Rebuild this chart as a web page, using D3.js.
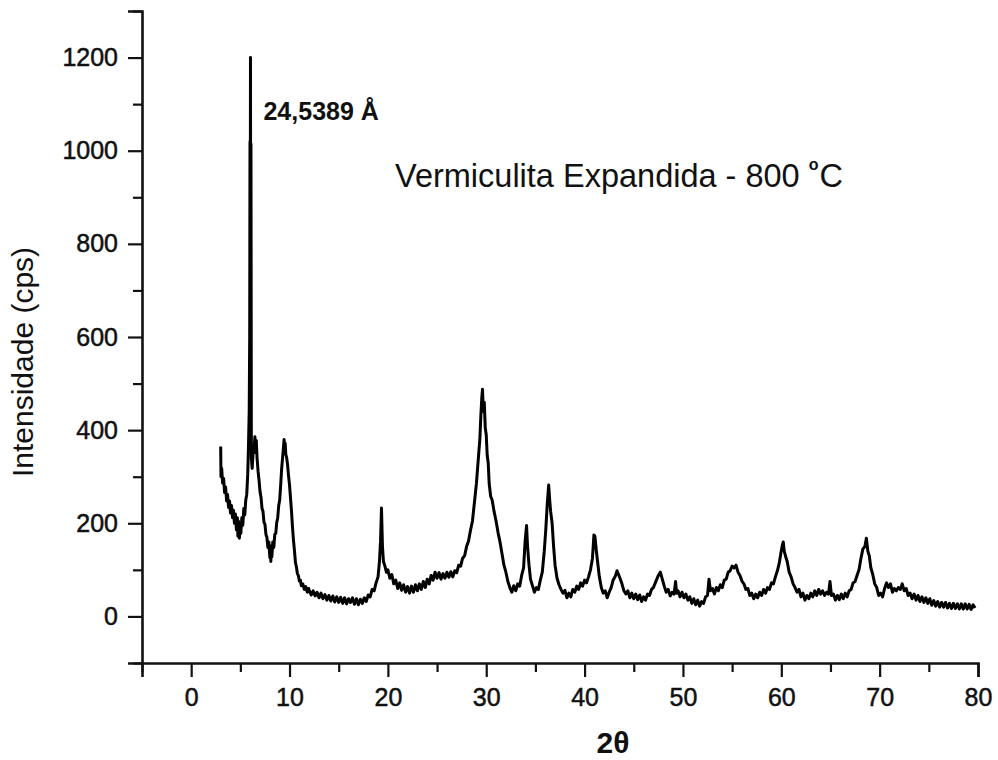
<html>
<head>
	<meta charset="utf-8" />
	<script src="https://cdnjs.cloudflare.com/ajax/libs/d3/7.8.5/d3.min.js"></script>
	<style>
		body { margin: 0; background: #fff; }
		text { font-family: "Liberation Sans", Arial, sans-serif; fill: #111; }
	</style>
</head>
<body>
<svg id="chart" width="998" height="760"></svg>
<script>

	// tick values
	var xMajorTicks = [0, 10, 20, 30, 40, 50, 60, 70, 80];
	var xMinorTicks = [-5, 5, 15, 25, 35, 45, 55, 65, 75];
	var yMajorTicks = [0, 200, 400, 600, 800, 1000, 1200];
	var yMinorTicks = [-100, 100, 300, 500, 700, 900, 1100, 1300];

	// labels
	var yTitle = "Intensidade (cps)";
	var xTitle = "2θ";
	var sampleName = "Vermiculita Expandida - 800 ";
	var peakLabel = "24,5389 Å";
	var peakAt = [6.03, 1200];

	// diffractogram, [2theta, cps]
	var scanLow = [
		[3.00,365],[3.03,300],[3.1,318],[3.2,286],[3.3,296],[3.4,266],[3.5,278],[3.6,248],[3.7,262],[3.8,234],
		[3.9,248],[4.0,222],[4.1,238],[4.2,212],[4.3,228],[4.4,200],[4.5,220],[4.6,186],[4.7,212],[4.75,172],
		[4.8,205],[4.9,168],[5.0,198],[5.05,178],[5.15,212],[5.25,196],[5.35,232],[5.45,218],[5.55,250],[5.65,262],
		[5.75,305],[5.82,360],[5.9,440],[5.95,600],[5.98,1020],[6.0,600],[6.03,1200],[6.06,480],[6.08,1015],[6.12,340],
		[6.2,318],[6.3,352],[6.4,362],[6.48,386],[6.55,352],[6.62,378],[6.7,340],[6.8,312],[6.9,292],[7.0,268],
		[7.1,256],[7.2,232],[7.3,226],[7.4,202],[7.5,198],[7.6,176],[7.7,170],[7.8,148],[7.9,160],[8.0,126],
		[8.05,152],[8.1,118],[8.15,146],[8.2,128],[8.3,160],[8.4,148],[8.5,176],[8.6,178],[8.7,202],[8.8,212],
		[8.9,238],[9.0,250],[9.1,282],[9.2,318],[9.3,342],[9.38,362],[9.45,380],[9.5,358],[9.56,372],[9.62,348],
		[9.7,342],[9.8,326],[9.9,302],[10.0,282],[10.1,254],[10.2,226],[10.3,192],[10.4,164],[10.5,142],[10.6,116],
		[10.7,106],[10.8,92],[10.9,88],[11.0,76],[11.1,78],[11.2,66],[11.35,70],[11.5,58],[11.65,64],[11.8,52],[11.95,60]
	];

	var scanMid = [
		[12.0,56],[12.2,46],[12.4,55],[12.6,44],[12.8,52],[13.0,40],[13.2,50],[13.4,38],[13.6,47],[13.8,35],
		[14.0,45],[14.2,33],[14.4,44],[14.6,31],[14.8,42],[15.0,30],[15.2,41],[15.4,28],[15.6,40],[15.8,27],
		[16.0,38],[16.2,30],[16.4,40],[16.6,26],[16.8,38],[17.0,25],[17.2,37],[17.4,28],[17.6,40],[17.8,32],
		[18.0,46],[18.2,42],[18.4,58],[18.6,55],[18.8,72],[19.0,85],[19.15,120],[19.25,160],[19.35,233],[19.45,150],
		[19.55,118],[19.7,108],[19.85,95],[20.0,100],[20.2,82],[20.4,90],[20.6,70],[20.8,78],[21.0,60],[21.2,72],
		[21.4,56],[21.6,68],[21.8,52],[22.0,64],[22.2,50],[22.4,65],[22.6,52],[22.8,68],[23.0,55],[23.2,70],
		[23.4,58],[23.6,75],[23.8,62],[24.0,80],[24.2,70],[24.4,88],[24.6,78],[24.8,95],[25.0,82],[25.2,94],
		[25.4,80],[25.6,92],[25.8,82],[26.0,95],[26.2,84],[26.4,96],[26.6,85],[26.8,98],[27.0,94],[27.2,110],
		[27.4,108],[27.6,125],[27.8,130],[28.0,150],[28.2,162],[28.4,185],[28.6,205],[28.8,245],[29.0,285],[29.2,340],
		[29.35,380],[29.45,430],[29.55,470],[29.62,488],[29.7,440],[29.8,460],[29.9,405],[30.0,390],[30.1,345],[30.2,330],
		[30.3,285],[30.45,258],[30.6,250],[30.8,225],[31.0,205],[31.2,180],[31.4,160],[31.6,135],[31.8,110],[32.0,95],
		[32.2,75],[32.4,62],[32.6,52],[32.8,66],[33.0,55],[33.2,70],[33.4,65],[33.6,88],[33.8,105],[33.95,160],
		[34.1,195],[34.2,150],[34.35,110],[34.5,80],[34.7,66],[34.9,52],[35.1,62],[35.3,58],[35.5,78],[35.7,95],
		[35.9,140],[36.05,185],[36.2,240],[36.35,282],[36.45,250],[36.55,225],[36.7,200],[36.85,150],[37.0,110],[37.2,82],
		[37.4,68],[37.6,58],[37.8,50],[38.0,56],[38.2,40],[38.4,50],[38.6,42],[38.8,58],[39.0,52],[39.2,65],
		[39.4,58],[39.6,72],[39.8,65],[40.0,78],[40.2,72],[40.4,85],[40.6,100],[40.8,125],[40.95,175],[41.05,172],
		[41.2,140],[41.35,112],[41.5,85],[41.7,62],[41.9,50]
	];

	var scanHigh = [
		[42.1,55],[42.3,40],[42.5,52],[42.7,62],[42.9,78],[43.1,85],[43.3,98],[43.45,90],[43.6,82],[43.8,70],
		[44.0,55],[44.2,48],[44.4,55],[44.6,40],[44.8,50],[45.0,38],[45.2,48],[45.4,36],[45.6,46],[45.8,32],
		[46.0,42],[46.2,35],[46.4,48],[46.6,45],[46.8,58],[47.0,62],[47.3,78],[47.5,88],[47.7,95],[47.9,80],
		[48.1,65],[48.3,52],[48.5,58],[48.7,44],[48.9,52],[49.1,48],[49.25,75],[49.35,50],[49.5,55],[49.7,42],
		[49.9,52],[50.1,40],[50.3,48],[50.5,35],[50.7,42],[50.9,28],[51.1,38],[51.3,25],[51.5,35],[51.7,22],
		[51.9,32],[52.1,28],[52.3,42],[52.5,45],[52.65,80],[52.8,55],[53.0,60],[53.2,48],[53.4,62],[53.6,55],
		[53.8,68],[54.0,62],[54.2,78],[54.4,80],[54.6,95],[54.8,98],[55.0,108],[55.2,104],[55.4,110],[55.6,95],
		[55.8,88],[56.0,76],[56.2,70],[56.4,58],[56.6,60],[56.8,45],[57.0,50],[57.2,38],[57.4,48],[57.6,40],
		[57.8,52],[58.0,45],[58.2,58],[58.4,50],[58.6,62],[58.8,58],[59.0,72],[59.2,70],[59.4,85],[59.6,98],
		[59.8,115],[59.95,135],[60.1,152],[60.2,160],[60.3,140],[60.45,128],[60.6,118],[60.8,95],[61.0,85],[61.2,70],
		[61.4,62],[61.6,52],[61.8,58],[62.0,42],[62.2,50],[62.4,35],[62.6,45],[62.8,38],[63.0,50],[63.2,42],
		[63.4,55],[63.6,45],[63.8,58],[64.0,48],[64.2,55],[64.4,45],[64.6,52],[64.8,48],[64.95,75],[65.1,45],
		[65.3,48],[65.5,35],[65.7,45],[65.9,36],[66.1,48],[66.3,38],[66.5,50],[66.7,42],[66.9,55],[67.1,58],
		[67.3,72],[67.5,75],[67.7,88],[67.9,100],[68.1,125],[68.3,145],[68.5,150],[68.65,168],[68.8,140],[68.95,130],
		[69.1,105],[69.3,90],[69.5,70],[69.7,62],[69.9,45],[70.1,50],[70.3,42],[70.5,60],[70.7,72],[70.9,62],
		[71.1,70],[71.3,52],[71.5,60],[71.7,55],[71.9,62],[72.1,58],[72.3,70],[72.5,55],[72.7,60],[72.9,45],
		[73.1,50],[73.3,38],[73.5,48],[73.7,35],[73.9,45],[74.1,32],[74.3,42],[74.5,30],[74.7,40],[74.9,28],
		[75.1,38],[75.3,24],[75.5,34],[75.7,22],[75.9,32],[76.1,20],[76.3,30],[76.5,20],[76.7,30],[76.9,18],
		[77.1,28],[77.3,17],[77.5,28],[77.7,17],[77.9,27],[78.1,16],[78.3,27],[78.5,16],[78.7,27],[78.9,16],
		[79.1,26],[79.3,15],[79.5,25],[79.7,18]
	];

	var scan = scanLow.concat(scanMid, scanHigh);

	var svg = d3.select("#chart");

	var x = d3.scaleLinear().domain([-5, 80]).range([142, 978]);
	var y = d3.scaleLinear().domain([-100, 1300]).range([663, 11]);

	// y axis
	svg.append("g")
		.attr("transform", "translate(" + x(-5) + ",0)")
		.call(d3.axisLeft(y).tickValues(yMajorTicks).tickSize(14).tickPadding(10).tickFormat(d3.format("d")));
	svg.append("g")
		.attr("transform", "translate(" + x(-5) + ",0)")
		.call(d3.axisLeft(y).tickValues(yMinorTicks).tickSize(9).tickFormat(""))
		.select(".domain").remove();

	// x axis
	svg.append("g")
		.attr("transform", "translate(0," + y(-100) + ")")
		.call(d3.axisBottom(x).tickValues(xMajorTicks).tickSize(14).tickPadding(11).tickFormat(d3.format("d")));
	svg.append("g")
		.attr("transform", "translate(0," + y(-100) + ")")
		.call(d3.axisBottom(x).tickValues(xMinorTicks).tickSize(9).tickFormat(""))
		.select(".domain").remove();

	svg.selectAll(".domain").attr("stroke", "#111").attr("stroke-width", 2.6);
	svg.selectAll(".tick line").attr("stroke", "#111").attr("stroke-width", 2.2);
	svg.selectAll(".tick text")
		.style("font-family", "'Liberation Sans', Arial, sans-serif")
		.style("font-size", "25px")
		.attr("fill", "#111")
		.attr("stroke", "#111")
		.attr("stroke-width", 0.5);

	// pattern
	var line = d3.line()
		.x(function(d){ return x(d[0]); })
		.y(function(d){ return y(d[1]); });

	svg.append("path")
		.datum(scan)
		.attr("d", line)
		.attr("fill", "none")
		.attr("stroke", "#000")
		.attr("stroke-width", 3)
		.attr("stroke-linejoin", "round");

	// titles
	svg.append("text")
		.attr("transform", "translate(33,362) rotate(-90)")
		.attr("text-anchor", "middle")
		.style("font-size", "30px")
		.text(yTitle);

	svg.append("text")
		.attr("x", 613)
		.attr("y", 753)
		.attr("text-anchor", "middle")
		.style("font-size", "30px")
		.style("font-weight", "bold")
		.text(xTitle);

	svg.append("text")
		.attr("x", x(peakAt[0]) + 13)
		.attr("y", 120)
		.style("font-size", "25px")
		.style("font-weight", "bold")
		.text(peakLabel);

	var sampleText = svg.append("text")
		.attr("x", 395)
		.attr("y", 187)
		.style("font-size", "32.5px");
	sampleText.append("tspan").text(sampleName);
	sampleText.append("tspan").attr("dy", -17).style("font-size", "16px").style("font-weight", "bold").text("o");
	sampleText.append("tspan").attr("dx", 1).attr("dy", 17).text("C");

</script>
</body>
</html>
